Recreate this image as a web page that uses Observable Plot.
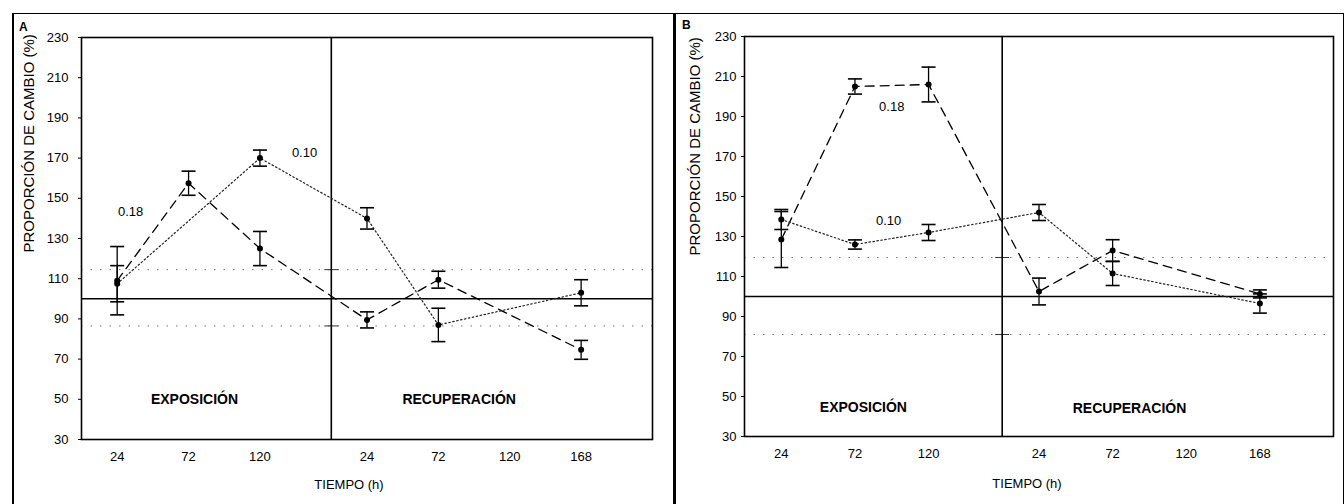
<!DOCTYPE html>
<html>
<head>
<meta charset="utf-8">
<script src="https://cdn.jsdelivr.net/npm/d3@7"></script>
<script src="https://cdn.jsdelivr.net/npm/@observablehq/plot@0.6"></script>
<style>
  body { margin: 0; background: #fff; }
  #page { position: relative; width: 1344px; height: 504px; overflow: hidden; background: #fff;
          font-family: "Liberation Sans", Arial, sans-serif; }
  .panel { position: absolute; top: 0; }
  .box { position: absolute; border-top: 1.5px solid #000; pointer-events: none; }
  .tag { position: absolute; font: bold 12px "Liberation Sans", Arial, sans-serif; color: #000; }
</style>
</head>
<body>
<div id="page">
  <div class="box" style="left:12px; top:13px; width:660px; height:500px; border-left:2px solid #000;"></div>
  <div class="box" style="left:673px; top:13px; width:667px; height:500px; border-left:3px solid #000; border-right:1.5px solid #000;"></div>
  <div class="tag" style="left:19px; top:20px;">A</div>
  <div class="tag" style="left:682px; top:18px;">B</div>
</div>
<script>
// Sampling times (h): exposure phase, then recovery phase counted from its own start
const hoursExposure = [24, 72, 120];
const hoursRecovery = [24, 72, 120, 168];
const exposureEnd = 168;
const axisEnd = 384;
const yTicks = [30, 50, 70, 90, 110, 130, 150, 170, 190, 210, 230];
const baseline = 100;
const seriesNames = ["0.18", "0.10"];
const phaseNames = ["EXPOSICIÓN", "RECUPERACIÓN"];
const axisLabelY = "PROPORCIÓN DE CAMBIO (%)";
const axisLabelX = "TIEMPO (h)";

// Panel A: mean and standard error at exposure 24/72/120 h and recovery 24/72/120/168 h
const a018 = [109, 157.5, 125, 89.5, 109.5, null, 74.6];
const a018se = [17, 6, 8.5, 4, 4.2, null, 4.7];
const a010 = [107.5, null, 170, 140, 87, null, 103];
const a010se = [9, null, 4, 5.3, 8.3, null, 6.5];
const aControl = [86.5, 114.5];

// Panel B
const b018 = [128.5, 205, 206, 102.5, 123, null, 101.3];
const b018se = [14, 3.8, 8.7, 6.7, 5.4, null, 2];
const b010 = [138.5, 126, 132, 142, 111.5, null, 96.5];
const b010se = [5, 2.3, 4, 4, 6, null, 4.8];
const bControl = [81, 119.5];

// Position of each sample on the continuous time axis and the label shown under it
const timeAxis = [...hoursExposure, ...hoursRecovery.map(h => exposureEnd + h)];
const timeLabels = [...hoursExposure, ...hoursRecovery];
const labelAt = new Map(timeAxis.map((t, i) => [t, String(timeLabels[i])]));

function rows(series, means, ses) {
  return means
    .map((v, i) => ({series, t: timeAxis[i], v, se: ses[i]}))
    .filter(d => d.v != null);
}

// Horizontal cap used at the ends of the error bars
const capSymbol = {
  draw(ctx, size) {
    const w = Math.sqrt(size / Math.PI);
    ctx.moveTo(-w, 0);
    ctx.lineTo(w, 0);
  }
};

function panel(cfg) {
  const hi = rows(seriesNames[0], cfg.high, cfg.highSe);
  const lo = rows(seriesNames[1], cfg.low, cfg.lowSe);
  const all = [...hi, ...lo];
  const caps = all.flatMap(d => [{t: d.t, y: d.v - d.se}, {t: d.t, y: d.v + d.se}]);
  const font = "Liberation Sans, Arial, sans-serif";
  return Plot.plot({
    width: 672,
    height: 504,
    marginLeft: cfg.margin[0],
    marginRight: cfg.margin[1],
    marginTop: cfg.margin[2],
    marginBottom: cfg.margin[3],
    style: {fontFamily: font, fontSize: "13px", color: "#000", background: "transparent", overflow: "visible"},
    x: {domain: [0, axisEnd], ticks: timeAxis, tickFormat: t => labelAt.get(t), tickSize: 0, tickPadding: 12, label: null},
    y: {domain: [30, 230], ticks: yTicks, tickSize: 3, tickPadding: cfg.yPad, label: null},
    marks: [
      Plot.ruleY(cfg.control, {stroke: "#777", strokeWidth: 1, strokeDasharray: "1.5,8"}),
      Plot.dot(cfg.control, {x: () => exposureEnd, y: d => d, symbol: capSymbol, r: 7, stroke: "#333", strokeWidth: 1}),
      Plot.ruleY([baseline], {stroke: "#000", strokeWidth: 1.6}),
      Plot.ruleX([exposureEnd], {stroke: "#000", strokeWidth: 1.6}),
      Plot.line(hi, {x: "t", y: "v", stroke: "#000", strokeWidth: 1.3, strokeDasharray: "9,6"}),
      Plot.line(lo, {x: "t", y: "v", stroke: "#222", strokeWidth: 1.2, strokeDasharray: "1.5,2.5"}),
      Plot.ruleX(all, {x: "t", y1: d => d.v - d.se, y2: d => d.v + d.se, stroke: "#000", strokeWidth: 1.3}),
      Plot.dot(caps, {x: "t", y: "y", symbol: capSymbol, r: 7, stroke: "#000", strokeWidth: 1.6}),
      Plot.dot(all, {x: "t", y: "v", r: 3, fill: "#000"}),
      Plot.text(cfg.seriesTags, {x: "t", y: "v", text: "text", fontSize: 13}),
      Plot.text(cfg.phaseTags, {x: "t", y: "v", text: "text", fontSize: 14, fontWeight: "bold"}),
      Plot.text([axisLabelY], {text: d => d, frameAnchor: "left", rotate: -90, dx: cfg.yLabel[0], dy: cfg.yLabel[1], fontSize: 15}),
      Plot.text([axisLabelX], {text: d => d, frameAnchor: "bottom", dx: cfg.xLabel[0], dy: cfg.xLabel[1], fontSize: 13}),
      Plot.frame({stroke: "#000", strokeWidth: 1.6})
    ]
  });
}

const chartA = panel({
  high: a018, highSe: a018se, low: a010, lowSe: a010se, control: aControl,
  margin: [81, 20, 37, 65], yPad: 10,
  seriesTags: [{t: 33, v: 143.5, text: seriesNames[0]}, {t: 150, v: 172.5, text: seriesNames[1]}],
  phaseTags: [{t: 76, v: 50, text: phaseNames[0]}, {t: 254, v: 50, text: phaseNames[1]}],
  yLabel: [-52, 14], xLabel: [-18, 49]
});
const chartB = panel({
  high: b018, highSe: b018se, low: b010, lowSe: b010se, control: bControl,
  margin: [72, 11, 36, 68], yPad: 5,
  seriesTags: [{t: 96, v: 195, text: seriesNames[0]}, {t: 94, v: 138, text: seriesNames[1]}],
  phaseTags: [{t: 77.5, v: 44.5, text: phaseNames[0]}, {t: 251, v: 44, text: phaseNames[1]}],
  yLabel: [-49, 19], xLabel: [-12, 51]
});

const page = document.getElementById("page");
chartA.classList.add("panel");
chartA.style.left = "0px";
chartB.classList.add("panel");
chartB.style.left = "672px";
page.prepend(chartB);
page.prepend(chartA);
</script>
</body>
</html>
